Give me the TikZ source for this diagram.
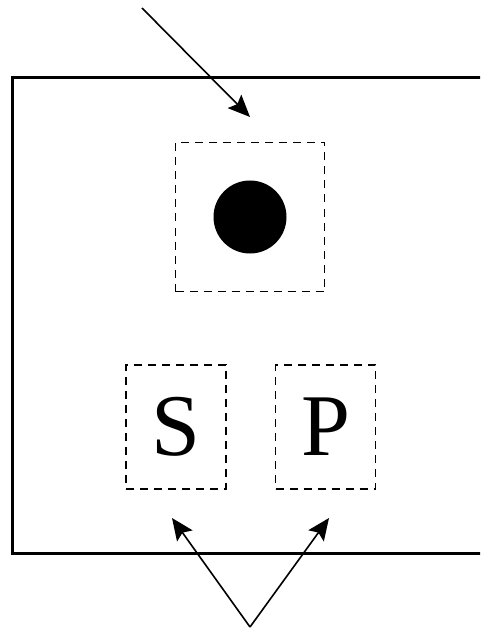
\documentclass[tikz,border=0pt]{standalone}
\usepackage{fontspec}
\setmainfont{Liberation Serif}
\usetikzlibrary{positioning,arrows.meta}

\begin{document}
\begin{tikzpicture}[
    x=1pt, y=-1pt,
    frame/.style={line width=3pt},
    dashbox/.style={draw, dash pattern=on 8pt off 6pt, line width=1.5pt, inner sep=0pt},
    dot/.style={circle, fill=black, minimum size=73pt, inner sep=0pt},
    letter/.style={font=\fontsize{88}{88}\selectfont},
    arrow/.style={-{Stealth[length=22pt, width=19pt, inset=4pt]}, line width=1.6pt}
]
\useasboundingbox (0,0) rectangle (480,628);
\clip (0,0) rectangle (480,628);

% outer frame, runs past the right edge
\draw[frame] (12,78) rectangle (500,553);

\node[dashbox, minimum width=149pt, minimum height=149pt] (top) at (250,217) {};
\node[dot] (ball) at (top.center) {};
\node[dashbox, minimum width=100pt, minimum height=124pt, letter] (s) at (176,427) {S};
\node[dashbox, minimum width=100pt, minimum height=124pt, letter, right=48pt of s] (p) {P};

\coordinate (in) at (142,8);
\coordinate (intip) at (250,117);
\coordinate (base) at (250,627);
\coordinate (stip) at (172,518);
\coordinate (ptip) at (329,518);

\draw[arrow] (in) -- (intip);
\draw[arrow] (base) -- (stip);
\draw[arrow] (base) -- (ptip);
\end{tikzpicture}
\end{document}
